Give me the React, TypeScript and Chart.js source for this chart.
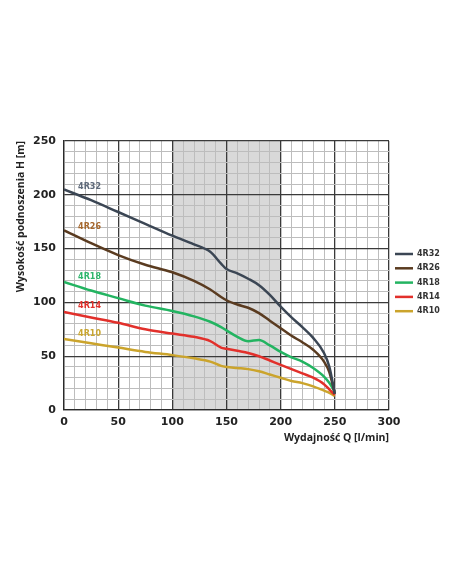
import React, { useEffect, useRef } from "react";
import { Chart, registerables } from "chart.js";

Chart.register(...registerables);

const flowQ = [0, 25, 50, 75, 100, 120, 135, 145, 150, 160, 170, 180, 190, 200, 210, 220, 230, 240, 245, 250];
const h4R32 = [205, 195, 184, 173, 162, 154, 147, 136, 131, 127, 122, 116, 107, 96, 86, 77, 67, 53, 40, 15];
const h4R26 = [167, 155, 144, 135, 128, 120, 112, 105, 102, 98, 95, 90, 83, 76, 69, 63, 56, 45, 35, 15];
const h4R18 = [119, 111, 104, 97, 92, 87, 82, 77, 74, 68, 64, 65, 60, 54, 49, 45, 39, 31, 25, 17];
const h4R14 = [91, 86, 81, 75, 71, 68, 64, 58, 57, 55, 53, 50, 46, 42, 38, 34, 30, 24, 19, 14];
const h4R10 = [66, 62, 58, 54, 51, 48, 45, 41, 40, 39, 38, 36, 33, 30, 27, 25, 22, 18, 16, 13];

const seriesNames = ["4R32", "4R26", "4R18", "4R14", "4R10"];
const lineColors = ["#3b4654", "#5a3b20", "#23b461", "#e2302b", "#cba42c"];
const labelColors = ["#5f6a7a", "#a5672d", "#2db56b", "#e0312c", "#c9a630"];
const labelY = [207, 170, 124, 97, 71];
const labelX = 13;
const shadeFrom = 100;
const shadeTo = 200;

const FONT = "'DejaVu Sans', sans-serif";
const TFONT = "'Open Sans', sans-serif";

export default function App() {
  const ref = useRef<HTMLCanvasElement>(null);
  useEffect(() => {
    const all = [h4R32, h4R26, h4R18, h4R14, h4R10];
    const shade = {
      id: "shade",
      beforeDraw(chart: any) {
        const { ctx, chartArea, scales } = chart;
        const x0 = scales.x.getPixelForValue(shadeFrom);
        const x1 = scales.x.getPixelForValue(shadeTo);
        ctx.save();
        ctx.fillStyle = "#d9d9d9";
        ctx.fillRect(x0, chartArea.top, x1 - x0, chartArea.bottom - chartArea.top);
        ctx.restore();
      },
      afterDraw(chart: any) {
        const { ctx, scales } = chart;
        ctx.save();
        ctx.font = `bold 8px ${FONT}`;
        ctx.textBaseline = "middle";
        ctx.textAlign = "left";
        seriesNames.forEach((n, i) => {
          ctx.fillStyle = labelColors[i];
          ctx.fillText(n, scales.x.getPixelForValue(labelX), scales.y.getPixelForValue(labelY[i]));
        });
        // legend
        seriesNames.forEach((n, i) => {
          const y = 254 + i * 14.3;
          ctx.strokeStyle = lineColors[i];
          ctx.lineWidth = 2.5;
          ctx.beginPath();
          ctx.moveTo(395, y);
          ctx.lineTo(413, y);
          ctx.stroke();
          ctx.fillStyle = "#333";
          ctx.fillText(n, 417, y);
        });
        ctx.restore();
      },
    };
    const isMajor = (v: number) => v % 50 === 0;
    const chart = new Chart(ref.current!, {
      type: "line",
      data: {
        datasets: seriesNames.map((n, i) => ({
          label: n,
          data: flowQ.map((q, j) => ({ x: q, y: all[i][j] })),
          borderColor: lineColors[i],
          borderWidth: 2.5,
          pointRadius: 0,
          cubicInterpolationMode: "monotone" as const,
          fill: false,
        })),
      },
      options: {
        animation: false,
        responsive: false,
        layout: { padding: { left: 0, top: 141, right: 63, bottom: 142 } },
        plugins: { legend: { display: false }, tooltip: { enabled: false } },
        scales: {
          x: {
            type: "linear",
            min: 0,
            max: 300,
            afterFit: (s: any) => { s.height = 32; },
            ticks: {
              stepSize: 10,
              autoSkip: false,
              maxRotation: 0,
              padding: 6,
              color: "#222",
              font: { family: FONT, weight: "bold", size: 11 },
              callback: (v: any) => (isMajor(Number(v)) ? String(v) : ""),
            },
            grid: {
              drawTicks: false,
              color: (c: any) => (isMajor(c.tick.value) ? "#3a3a3a" : "#bdbdbd"),
              lineWidth: (c: any) => (isMajor(c.tick.value) ? 1.3 : 1),
            },
            border: { color: "#2a2a2a", width: 1.3 },
            title: {
              display: true,
              text: "Wydajność Q [l/min]",
              align: "end",
              color: "#222",
              font: { family: TFONT, weight: "bold", size: 10.5 },
              padding: { top: 0, bottom: -2 },
            },
          },
          y: {
            type: "linear",
            min: 0,
            max: 250,
            afterFit: (s: any) => { s.width = 64; },
            ticks: {
              stepSize: 10,
              autoSkip: false,
              padding: 8,
              color: "#222",
              font: { family: FONT, weight: "bold", size: 11 },
              callback: (v: any) => (isMajor(Number(v)) ? String(v) : ""),
            },
            grid: {
              drawTicks: false,
              color: (c: any) => (isMajor(c.tick.value) ? "#3a3a3a" : "#bdbdbd"),
              lineWidth: (c: any) => (isMajor(c.tick.value) ? 1.3 : 1),
            },
            border: { color: "#2a2a2a", width: 1.3 },
            title: {
              display: true,
              text: "Wysokość podnoszenia H [m]",
              align: "end",
              color: "#222",
              font: { family: TFONT, weight: "bold", size: 10.5 },
              padding: { top: 15, bottom: 0 },
            },
          },
        },
      },
      plugins: [shade],
    } as any);
    return () => chart.destroy();
  }, []);
  return (
    <div style={{ position: "absolute", left: 0, top: 0, width: 452, height: 584, background: "#fff" }}>
      <canvas ref={ref} width={452} height={584} style={{ display: "block" }} />
    </div>
  );
}
